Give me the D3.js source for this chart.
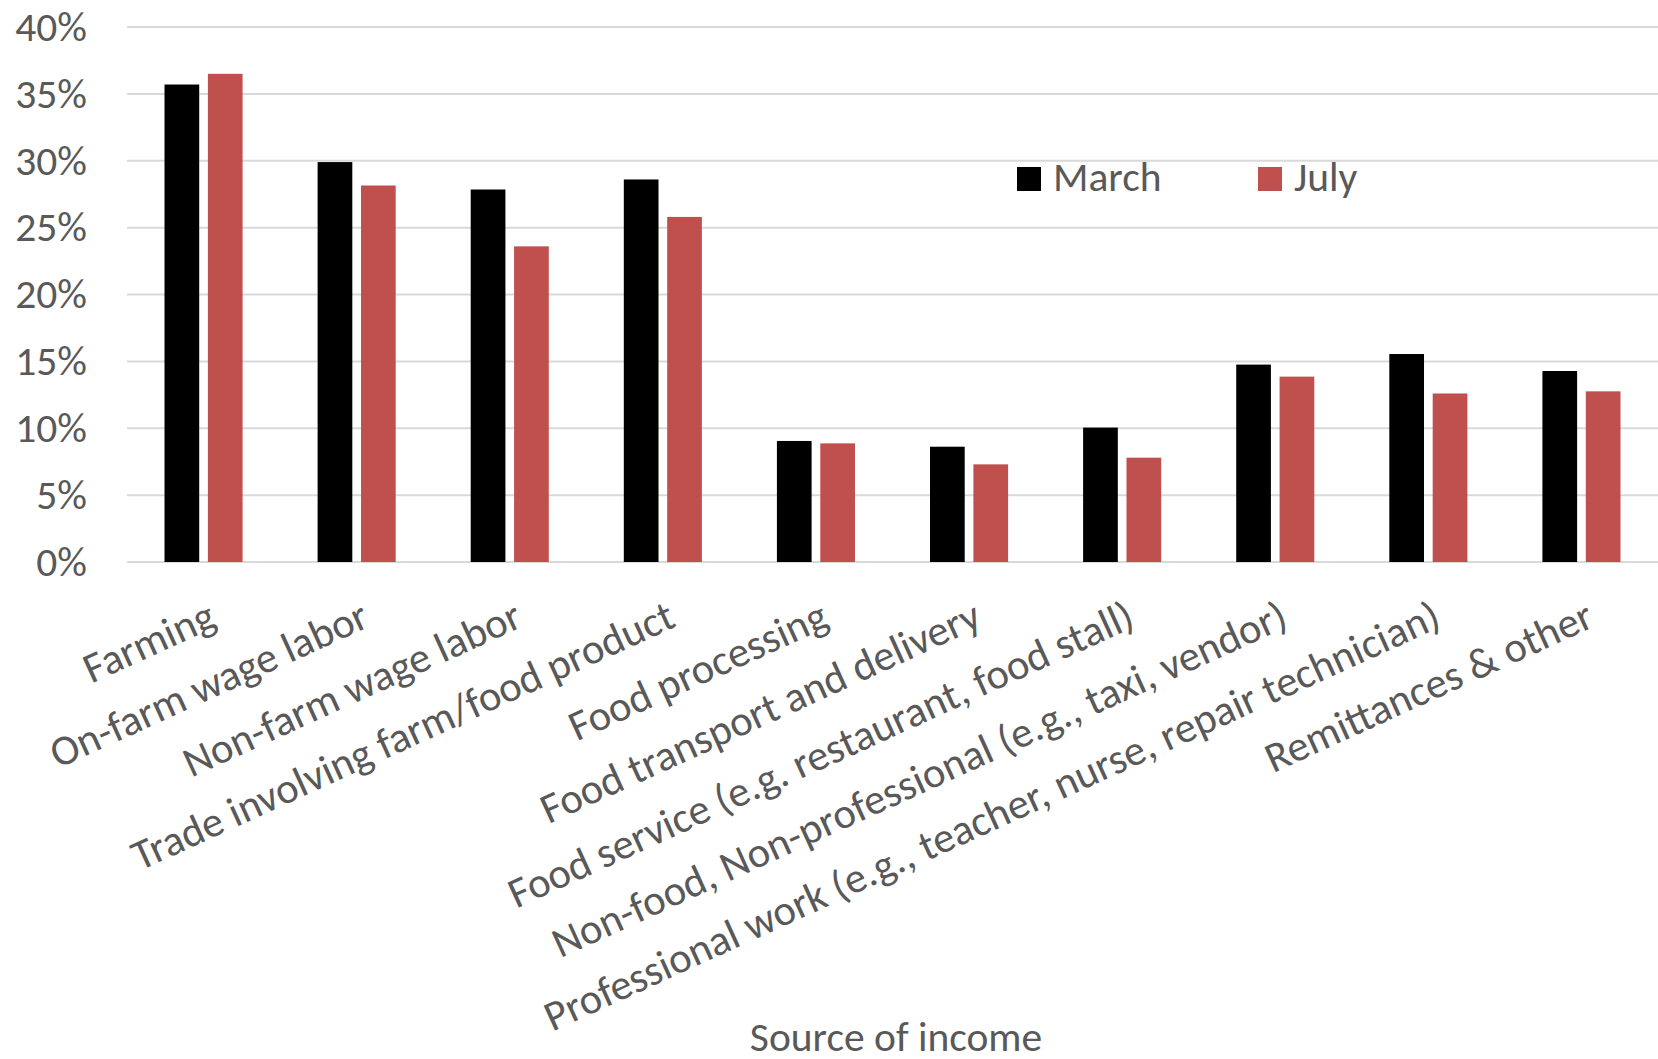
<!DOCTYPE html>
<html>
<head>
<meta charset="utf-8">
<script src="https://cdn.jsdelivr.net/npm/d3@7"></script>
<style>
  body { margin: 0; background: #fff; }
  svg text { font-family: Carlito, "Open Sans", sans-serif; fill: #595959; }
</style>
</head>
<body>
<div id="chart"></div>
<script>
let width = 1658;
let height = 1059;
let fontSize = 41.5;

// income sources on the x axis
let categories = [
  "Farming",
  "On-farm wage labor",
  "Non-farm wage labor",
  "Trade involving farm/food product",
  "Food processing",
  "Food transport and delivery",
  "Food service (e.g. restaurant, food stall)",
  "Non-food, Non-professional (e.g., taxi, vendor)",
  "Professional work (e.g., teacher, nurse, repair technician)",
  "Remittances & other"
];
let seriesNames = ["March", "July"];
let march = [35.7, 29.9, 27.85, 28.6, 9.05, 8.62, 10.05, 14.76, 15.55, 14.28];
let july = [36.5, 28.15, 23.6, 25.8, 8.87, 7.3, 7.8, 13.86, 12.6, 12.76];
let yTicks = [0, 5, 10, 15, 20, 25, 30, 35, 40];
let colors = ["#000000", "#C0504D"];

let margin = {top: 27, right: 0, bottom: 497, left: 127};

let svg = d3.select("#chart")
  .append("svg")
  .attr("width", width)
  .attr("height", height);

let x0 = d3.scaleBand()
  .domain(categories)
  .range([margin.left, width - margin.right])
  .paddingInner(0.49)
  .paddingOuter(0.245);

let x1 = d3.scaleBand()
  .domain(seriesNames)
  .range([0, x0.bandwidth()])
  .paddingInner(0.2);

let y = d3.scaleLinear()
  .domain([0, 40])
  .range([height - margin.bottom, margin.top]);

// gridlines
svg.append("g")
  .selectAll("line")
  .data(yTicks)
  .enter().append("line")
    .attr("x1", margin.left)
    .attr("x2", width - margin.right)
    .attr("y1", d => y(d))
    .attr("y2", d => y(d))
    .attr("stroke", "#d9d9d9")
    .attr("stroke-width", 2);

// y axis labels
let yAxis = d3.axisLeft(y)
  .tickValues(yTicks)
  .tickFormat(d => d + "%")
  .tickSize(0)
  .tickPadding(0);

svg.append("g")
  .attr("transform", "translate(" + (margin.left - 40) + ",0)")
  .call(yAxis)
  .call(g => g.select(".domain").remove())
  .selectAll("text")
    .attr("font-size", fontSize)
    .attr("fill", "#595959")
    .attr("font-family", "Carlito, 'Open Sans', sans-serif");

// bars
let rows = categories.map((c, i) => ({cat: c, values: [march[i], july[i]]}));

let groups = svg.append("g")
  .selectAll("g")
  .data(rows)
  .enter().append("g")
    .attr("transform", d => "translate(" + x0(d.cat) + ",0)");

groups.selectAll("rect")
  .data(d => d.values.map((v, j) => ({name: seriesNames[j], value: v, j: j})))
  .enter().append("rect")
    .attr("x", d => x1(d.name))
    .attr("width", x1.bandwidth())
    .attr("y", d => y(d.value))
    .attr("height", d => y(0) - y(d.value))
    .attr("fill", d => colors[d.j]);

// category labels, rotated
let xAxis = d3.axisBottom(x0).tickSize(0).tickPadding(0);

svg.append("g")
  .attr("transform", "translate(0," + y(0) + ")")
  .call(xAxis)
  .call(g => g.select(".domain").remove())
  .selectAll("text")
    .attr("font-size", 42.5)
    .attr("fill", "#595959")
    .attr("font-family", "Carlito, 'Open Sans', sans-serif")
    .attr("text-anchor", "end")
    .attr("dy", "0.72em")
    .attr("transform", "translate(2,36) rotate(-24.5)");

// axis title
svg.append("text")
  .attr("x", 896)
  .attr("y", 1051)
  .attr("text-anchor", "middle")
  .attr("font-size", fontSize)
  .text("Source of income");

// legend
let legendX = [1017, 1258];
let legend = svg.append("g")
  .selectAll("g")
  .data(seriesNames)
  .enter().append("g")
    .attr("transform", (d, i) => "translate(" + legendX[i] + ",167)");

legend.append("rect")
  .attr("width", 24)
  .attr("height", 24)
  .attr("fill", (d, i) => colors[i]);

legend.append("text")
  .attr("x", 36)
  .attr("y", 24)
  .attr("font-size", fontSize)
  .text(d => d);
</script>
</body>
</html>
